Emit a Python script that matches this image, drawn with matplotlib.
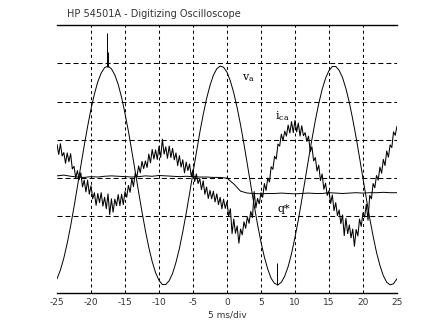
import numpy as np
import matplotlib
matplotlib.use("Agg")
import matplotlib.pyplot as plt

# time axis (ms), one point every 0.5 ms for the line voltage
t_va = np.arange(-25, 25.01, 0.5)
v_a = [0.37, 0.60, 0.91, 1.30, 1.75, 2.25, 2.78, 3.32, 3.85, 4.35,
       4.81, 5.20, 5.52, 5.75, 5.89, 5.93, 5.86, 5.70, 5.45, 5.11,
       4.69, 4.23, 3.71, 3.18, 2.64, 2.12, 1.63, 1.19, 0.82, 0.53,
       0.33, 0.22, 0.22, 0.32, 0.51, 0.80, 1.16, 1.60, 2.08, 2.60,
       3.14, 3.67, 4.19, 4.66, 5.08, 5.42, 5.69, 5.86, 5.93, 5.90,
       5.77, 5.54, 5.23, 4.84, 4.39, 3.89, 3.36, 2.82, 2.29, 1.79,
       1.33, 0.94, 0.62, 0.38, 0.25, 0.21, 0.28, 0.44, 0.69, 1.03,
       1.45, 1.91, 2.43, 2.96, 3.50, 4.02, 4.51, 4.95, 5.32, 5.61,
       5.81, 5.92, 5.92, 5.82, 5.63, 5.34, 4.98, 4.54, 4.06, 3.54,
       3.00, 2.47, 1.95, 1.48, 1.06, 0.72, 0.45, 0.28, 0.21, 0.24,
       0.37]

# short glitches on v_a
glitch_t = [-17.6, -17.45, 7.35]
glitch_lo = [5.90, 5.90, 0.22]
glitch_hi = [6.80, 6.30, 0.78]

# compensator current, one point every 0.25 ms
t_ica = np.arange(-25, 25.01, 0.25)
i_ca = [3.88, 3.62, 3.90, 3.58, 3.67, 3.39, 3.66, 3.43,
        3.64, 3.24, 3.31, 3.01, 3.20, 2.96, 3.14, 2.77,
        2.95, 2.64, 2.95, 2.58, 2.80, 2.46, 2.62, 2.29,
        2.60, 2.36, 2.62, 2.27, 2.50, 2.20, 2.59, 2.05,
        2.46, 2.11, 2.45, 2.28, 2.57, 2.28, 2.58, 2.31,
        2.65, 2.50, 2.81, 2.63, 2.99, 2.78, 3.13, 3.03,
        3.32, 3.14, 3.44, 3.25, 3.45, 3.28, 3.63, 3.40,
        3.75, 3.50, 3.74, 3.49, 3.83, 3.54, 4.02, 3.63,
        3.82, 3.52, 3.84, 3.54, 3.78, 3.48, 3.66, 3.33,
        3.59, 3.29, 3.48, 3.14, 3.42, 3.20, 3.37, 3.05,
        3.22, 2.91, 3.11, 2.86, 2.99, 2.70, 2.93, 2.58,
        2.77, 2.47, 2.68, 2.46, 2.66, 2.38, 2.59, 2.31,
        2.50, 2.20, 2.45, 2.21, 2.39, 2.00, 2.20, 1.55,
        1.93, 1.56, 1.75, 1.30, 1.67, 1.52, 1.86, 1.69,
        1.99, 1.82, 2.13, 1.97, 2.65, 2.22, 2.47, 2.33,
        2.62, 2.50, 2.86, 2.68, 3.00, 2.90, 3.30, 3.23,
        3.57, 3.50, 3.89, 3.84, 4.15, 3.98, 4.23, 4.10,
        4.39, 4.18, 4.48, 4.19, 4.51, 4.21, 4.44, 4.10,
        4.37, 4.11, 4.19, 3.96, 4.10, 3.69, 3.82, 3.45,
        3.54, 3.19, 3.34, 2.94, 3.11, 2.71, 2.87, 2.55,
        2.67, 2.34, 2.56, 2.15, 2.36, 2.02, 2.17, 1.81,
        2.04, 1.50, 1.95, 1.55, 1.78, 1.44, 1.67, 1.22,
        1.66, 1.49, 1.93, 1.74, 2.09, 1.98, 2.32, 1.90,
        2.55, 2.46, 2.86, 2.75, 3.07, 2.95, 3.29, 3.13,
        3.49, 3.33, 3.71, 3.55, 3.87, 3.80, 4.21, 4.12,
        4.35]

# reactive power reference, one point per ms
t_q = np.arange(-25, 25.01, 1.0)
q_ref = [3.06, 3.08, 3.05, 3.03, 3.02, 3.04, 3.03, 3.05, 3.06, 3.05,
         3.04, 3.03, 3.04, 3.06, 3.05, 3.07, 3.06, 3.05, 3.04, 3.05,
         3.04, 3.03, 3.03, 3.02, 3.02, 3.00, 2.85, 2.66, 2.61, 2.60,
         2.59, 2.60, 2.60, 2.61, 2.60, 2.59, 2.60, 2.61, 2.60, 2.60,
         2.62, 2.61, 2.60, 2.61, 2.62, 2.61, 2.62, 2.62, 2.63, 2.62,
         2.62]

xticks = [-25, -20, -15, -10, -5, 0, 5, 10, 15, 20, 25]
ygrid = [2, 3, 4, 5, 6]

fig = plt.figure(figsize=(4.42, 3.31), dpi=100)
ax = fig.add_axes([0.129, 0.115, 0.769, 0.809])

for x in xticks[1:-1]:
    ax.axvline(x, color='black', lw=0.75, linestyle=(0, (2.9, 2.9)), zorder=1)
for y in ygrid:
    ax.axhline(y, color='black', lw=0.75, linestyle=(0, (4.8, 2.9)), zorder=1)

ax.plot(t_va, v_a, color='black', lw=0.7)
ax.vlines(glitch_t, glitch_lo, glitch_hi, color='black', lw=0.7)
ax.plot(t_ica, i_ca, color='black', lw=0.75)
ax.plot(t_q, q_ref, color='black', lw=0.7)

ax.text(2.2, 5.55, r'$\mathregular{v_a}$', fontsize=8, family='DejaVu Serif')
ax.text(7.1, 4.55, r'$\mathregular{i_{ca}}$', fontsize=8, family='DejaVu Serif')
ax.text(7.4, 2.12, 'q*', fontsize=8, family='DejaVu Serif')

ax.set_xlim(-25, 25)
ax.set_ylim(0, 7)
ax.set_xticks(xticks)
ax.set_xticklabels([str(v) for v in xticks])
ax.set_yticks([])
ax.tick_params(axis='x', length=0, pad=4, labelsize=6.5, colors='#333333')
for side in ['left', 'right']:
    ax.spines[side].set_visible(False)
for side in ['top', 'bottom']:
    ax.spines[side].set_linewidth(1.0)
ax.set_xlabel('5 ms/div', fontsize=6.5, color='#333333', labelpad=2)

fig.text(0.152, 0.958, 'HP 54501A - Digitizing Oscilloscope', fontsize=7,
         color='#333333', va='center', ha='left')

fig.savefig('out.png', dpi=100)
